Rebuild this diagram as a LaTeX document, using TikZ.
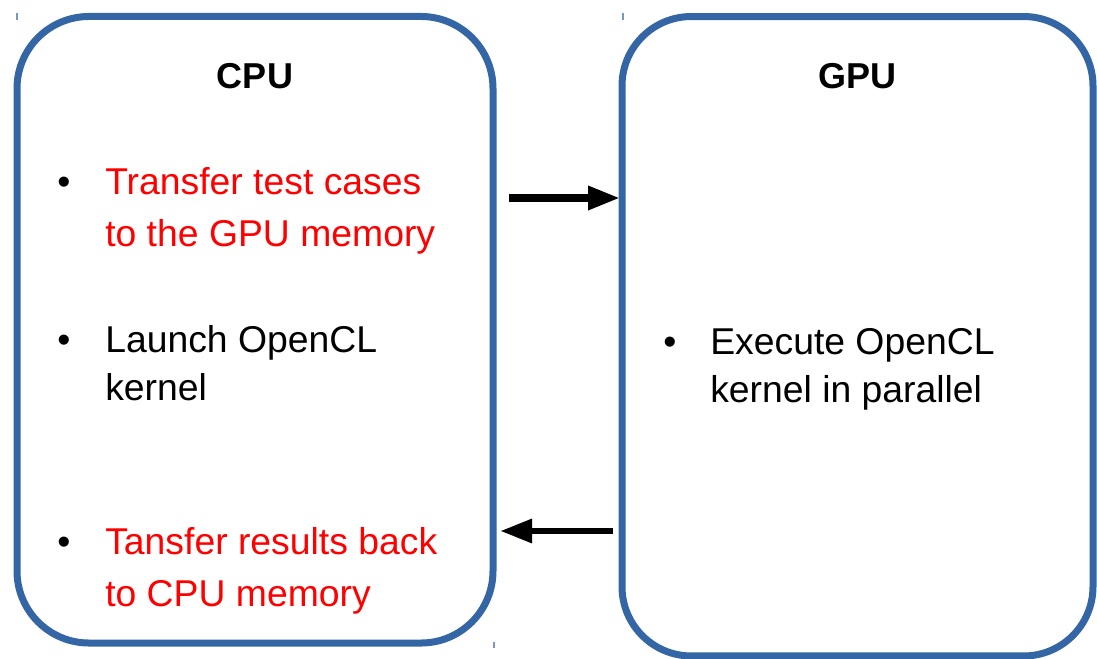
\documentclass[tikz,border=0pt]{standalone}
\usepackage{fontspec}
\setmainfont{Liberation Sans}
\usetikzlibrary{arrows.meta}
\definecolor{boxblue}{RGB}{52,102,166}
\definecolor{tickblue}{RGB}{120,150,200}
\definecolor{textred}{RGB}{255,0,0}
\tikzset{
  unitbox/.style={draw=boxblue, line width=5.25pt, inner sep=0pt, outer sep=0pt},
  title/.style={font=\fontsize{27}{32}\selectfont\bfseries, anchor=base, inner sep=0pt},
  line/.style={font=\fontsize{28}{39}\selectfont, anchor=base west, inner sep=0pt},
  redline/.style={line, text=textred},
  bul/.style={font=\fontsize{28}{39}\selectfont, anchor=base west, inner sep=0pt},
  flow/.style={line width=5.5pt, -{Triangle[length=24pt, width=17pt]}},
  tick/.style={draw=tickblue, line width=0.8pt}
}
\begin{document}
\begin{tikzpicture}[x=0.75pt, y=-0.75pt]
\useasboundingbox (0,0) rectangle (1097,659);
% boxes
\node[unitbox, rounded corners=54pt, minimum width=357pt, minimum height=469.9pt] (cpu) at (255,329.75) {};
\node[unitbox, rounded corners=52pt, minimum width=353.25pt, minimum height=479.6pt] (gpu) at (857.5,336.25) {};
% titles
\node[title] (cputitle) at (255,89) {CPU};
\node[title] (gputitle) at (857,89) {GPU};
% CPU items
\node[bul] (b1) at (57,195) {•};
\node[redline] (t1a) at (105,195) {Transfer test cases};
\node[redline] (t1b) at (105,247) {to the GPU memory};
\node[bul] (b2) at (57,353) {•};
\node[line] (t2a) at (105,353) {Launch OpenCL};
\node[line] (t2b) at (105,401) {kernel};
\node[bul] (b3) at (57,554) {•};
\node[redline] (t3a) at (105,554) {Tansfer results back};
\node[redline] (t3b) at (105,606) {to CPU memory};
% GPU item
\node[bul] (b4) at (663,355) {•};
\node[line] (t4a) at (710,355) {Execute OpenCL};
\node[line] (t4b) at (710,403) {kernel in parallel};
% arrows
\coordinate (a1s) at (509,198);
\coordinate (a1e) at (620,198);
\coordinate (a2s) at (613,531);
\coordinate (a2e) at (500,531);
\draw[flow] (a1s) -- (a1e);
\draw[flow, line width=5.2pt] (a2s) -- (a2e);
% small ticks
\coordinate (k1a) at (17,13); \coordinate (k1b) at (17,20);
\coordinate (k2a) at (623,13); \coordinate (k2b) at (623,20);
\coordinate (k3a) at (494,642); \coordinate (k3b) at (494,648);
\draw[tick] (k1a) -- (k1b);
\draw[tick] (k2a) -- (k2b);
\draw[tick] (k3a) -- (k3b);
\end{tikzpicture}
\end{document}
